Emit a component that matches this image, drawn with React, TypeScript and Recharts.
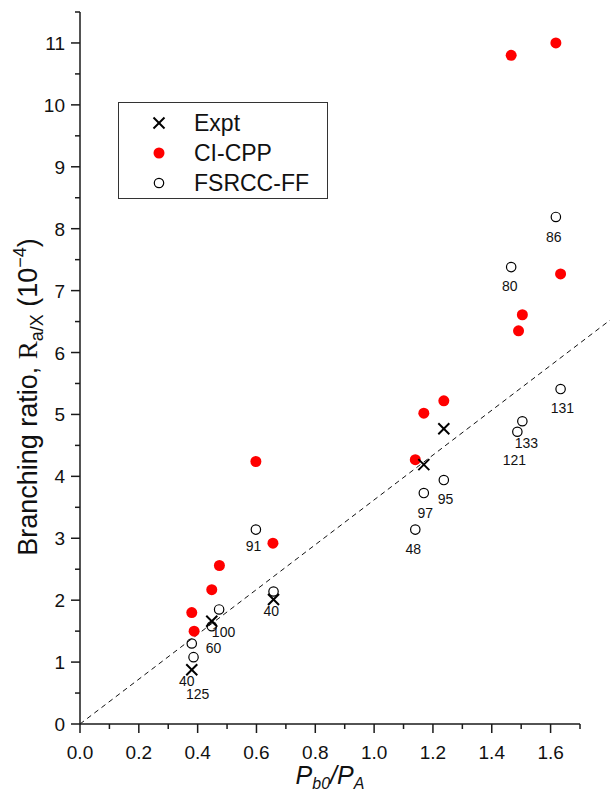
import React from "react";
import { ScatterChart, Scatter, XAxis, YAxis, ReferenceLine, Legend, Label } from "recharts";

// Expt (crosses)
const exptX = [0.38, 0.448, 0.658, 1.169, 1.237];
const exptY = [0.877, 1.66, 2.01, 4.19, 4.77];

// CI-CPP (red filled)
const ciX = [0.38, 0.388, 0.448, 0.474, 0.598, 0.656, 1.14, 1.169, 1.237, 1.491, 1.504, 1.466, 1.618, 1.634];
const ciY = [1.8, 1.5, 2.17, 2.56, 4.24, 2.92, 4.27, 5.02, 5.22, 6.35, 6.61, 10.8, 11.0, 7.27];

// FSRCC-FF (open circles)
const ffX = [0.386, 0.38, 0.448, 0.473, 0.658, 0.598, 1.14, 1.169, 1.237, 1.487, 1.504, 1.634, 1.466, 1.618];
const ffY = [1.08, 1.3, 1.58, 1.85, 2.14, 3.14, 3.14, 3.73, 3.94, 4.72, 4.89, 5.41, 7.38, 8.19];

// number annotations next to points
const noteText = ["40", "125", "60", "100", "40", "91", "48", "97", "95", "121", "133", "131", "80", "86"];
const noteX = [0.363, 0.4, 0.454, 0.488, 0.65, 0.59, 1.133, 1.174, 1.243, 1.477, 1.518, 1.64, 1.461, 1.611];
const noteY = [0.688, 0.49, 1.228, 1.48, 1.82, 2.88, 2.82, 3.41, 3.63, 4.27, 4.54, 5.1, 7.07, 7.87];

// dashed guide y = 3.62 x
const guideX = [0, 1.804];
const guideY = [0, 6.53];

const xTicks = [0, 0.1, 0.2, 0.3, 0.4, 0.5, 0.6, 0.7, 0.8, 0.9, 1.0, 1.1, 1.2, 1.3, 1.4, 1.5, 1.6, 1.7];
const xMajor = [0, 0.2, 0.4, 0.6, 0.8, 1.0, 1.2, 1.4, 1.6];
const yTicks = [0, 0.5, 1, 1.5, 2, 2.5, 3, 3.5, 4, 4.5, 5, 5.5, 6, 6.5, 7, 7.5, 8, 8.5, 9, 9.5, 10, 10.5, 11, 11.5];
const yMajor = [0, 1, 2, 3, 4, 5, 6, 7, 8, 9, 10, 11];

const legendNames = ["Expt", "CI-CPP", "FSRCC-FF"];

const FONT = "'Liberation Sans', Arial, sans-serif";
const AXIS = "#1a1a1a";

const zip = (xs: number[], ys: number[]) => xs.map((x, i) => ({ x, y: ys[i] }));

const exptData = zip(exptX, exptY);
const ciData = zip(ciX, ciY);
const ffData = zip(ffX, ffY);
const noteData = noteX.map((x, i) => ({ x, y: noteY[i], text: noteText[i] }));

const Cross = ({ cx, cy }: any) => (
  <g stroke="#000" strokeWidth={2}>
    <line x1={cx - 5.5} y1={cy - 5.5} x2={cx + 5.5} y2={cy + 5.5} />
    <line x1={cx - 5.5} y1={cy + 5.5} x2={cx + 5.5} y2={cy - 5.5} />
  </g>
);
const RedDot = ({ cx, cy }: any) => <circle cx={cx} cy={cy} r={5.5} fill="#ff0000" />;
const OpenDot = ({ cx, cy }: any) => (
  <circle cx={cx} cy={cy} r={4.7} fill="none" stroke="#000" strokeWidth={1.2} />
);
const Note = ({ cx, cy, payload }: any) => (
  <text x={cx} y={cy} textAnchor="middle" dominantBaseline="central" fontFamily={FONT} fontSize={14} fill="#111">
    {payload.text}
  </text>
);

const XTick = ({ x, y, payload }: any) => {
  const major = xMajor.some((v) => Math.abs(v - payload.value) < 1e-6);
  return (
    <g>
      <line x1={x} y1={y} x2={x} y2={y + (major ? 9 : 5)} stroke={AXIS} strokeWidth={1.5} />
      {major && (
        <text x={x} y={y + 35} textAnchor="middle" fontFamily={FONT} fontSize={19} fill="#111">
          {payload.value.toFixed(1)}
        </text>
      )}
    </g>
  );
};

const YTick = ({ x, y, payload }: any) => {
  const major = yMajor.some((v) => Math.abs(v - payload.value) < 1e-6);
  return (
    <g>
      <line x1={x} y1={y} x2={x - (major ? 9 : 5)} y2={y} stroke={AXIS} strokeWidth={1.5} />
      {major && (
        <text x={x - 15} y={y + 7} textAnchor="end" fontFamily={FONT} fontSize={19} fill="#111">
          {payload.value}
        </text>
      )}
    </g>
  );
};

const YTitle = () => (
  <text x={37} y={397} transform="rotate(-90, 37, 397)" textAnchor="middle" fontFamily={FONT} fontSize={27} fill="#111">
    <tspan>Branching ratio,  </tspan>
    <tspan fontFamily="'Liberation Serif', serif">R</tspan>
    <tspan fontSize={18} dy={6}>a/X</tspan>
    <tspan dy={-6}> (10</tspan>
    <tspan fontSize={18} dy={-11}>−4</tspan>
    <tspan dy={11}>)</tspan>
  </text>
);

const XTitle = () => (
  <text x={330} y={784} textAnchor="middle" fontFamily={FONT} fontStyle="italic" fontSize={25} fill="#111">
    <tspan>P</tspan>
    <tspan fontSize={16} dy={5}>b0</tspan>
    <tspan dy={-5}>/P</tspan>
    <tspan fontSize={16} dy={5}>A</tspan>
  </text>
);

const legendSymbol = (i: number) => {
  if (i === 0) return <Cross cx={8} cy={8} />;
  if (i === 1) return <RedDot cx={8} cy={8} />;
  return <OpenDot cx={8} cy={8} />;
};

const LegendBox = () => (
  <div
    style={{
      position: "relative",
      width: 210,
      height: 97,
      boxSizing: "border-box",
      border: "1px solid #333",
      background: "#fff",
      fontFamily: FONT,
      fontSize: 23,
      color: "#111",
    }}
  >
    {legendNames.map((name, i) => (
      <div key={name} style={{ position: "absolute", left: 0, top: 20 + 30 * i - 14, height: 28, width: "100%" }}>
        <svg width={16} height={16} style={{ position: "absolute", left: 32, top: 6 }}>
          {legendSymbol(i)}
        </svg>
        <span style={{ position: "absolute", left: 75, top: 0, lineHeight: "28px" }}>{name}</span>
      </div>
    ))}
  </div>
);

export default function App() {
  return (
    <div style={{ position: "absolute", left: 0, top: 0, width: 610, height: 798, background: "#fff" }}>
      <ScatterChart width={610} height={798} margin={{ top: 12, right: 30, bottom: 0, left: 0 }}>
        <XAxis
          type="number"
          dataKey="x"
          domain={[0, 1.7]}
          ticks={xTicks}
          interval={0}
          tickSize={0}
          tickMargin={0}
          tickLine={false}
          tick={<XTick />}
          axisLine={{ stroke: AXIS, strokeWidth: 1.5 }}
          height={74}
        >
          <Label content={<XTitle />} />
        </XAxis>
        <YAxis
          type="number"
          dataKey="y"
          domain={[0, 11.5]}
          ticks={yTicks}
          interval={0}
          tickSize={0}
          tickMargin={0}
          tickLine={false}
          tick={<YTick />}
          axisLine={{ stroke: AXIS, strokeWidth: 1.5 }}
          width={80}
        >
          <Label content={<YTitle />} />
        </YAxis>
        <ReferenceLine
          segment={[
            { x: guideX[0], y: guideY[0] },
            { x: guideX[1], y: guideY[1] },
          ]}
          ifOverflow="visible"
          stroke="#111"
          strokeWidth={1}
          strokeDasharray="5 4"
        />
        <Legend
          layout="vertical"
          align="center"
          verticalAlign="middle"
          wrapperStyle={{ position: "absolute", left: 118, top: 102, width: 210, height: 97 }}
          content={() => <LegendBox />}
        />
        <Scatter name="FSRCC-FF" data={ffData} shape={<OpenDot />} isAnimationActive={false} />
        <Scatter name="CI-CPP" data={ciData} shape={<RedDot />} isAnimationActive={false} />
        <Scatter name="Expt" data={exptData} shape={<Cross />} isAnimationActive={false} />
        <Scatter name="notes" data={noteData} shape={<Note />} isAnimationActive={false} legendType="none" />
      </ScatterChart>
    </div>
  );
}
